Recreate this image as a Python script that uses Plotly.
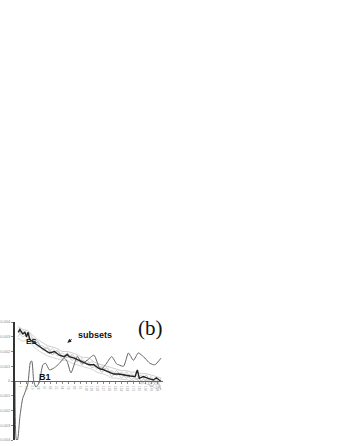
import plotly.graph_objects as go

# ---- data ----
es_x = [3.3, 5, 7.7, 10, 11.7, 13.3, 15, 20, 25, 30, 35, 40, 45, 50, 53, 55, 60, 65, 70, 75, 80,
        85, 90, 95, 100, 105, 110, 116.7, 121.7, 124, 126, 130, 135, 140, 143.3, 146.7, 148.3]
es_y = [0.0033, 0.0035, 0.0032, 0.0033, 0.003, 0.0033, 0.0028, 0.00255, 0.0023, 0.0021, 0.0019,
        0.002, 0.00175, 0.00165, 0.0018, 0.00165, 0.00155, 0.0014, 0.0013, 0.0011, 0.0011,
        0.00085, 0.00075, 0.00063, 0.00047, 0.00047, 0.0004, 0.00034, 0.0003, 0.00075, 0.00018,
        0.0003, 0.00018, 0.00007, 0.00022, 0.00007, -0.00005]

b1_x = [0, 1.5, 2.5, 5, 7.7, 10, 13, 15.7, 17, 19, 21, 24.3, 28.3, 31, 35, 40, 45, 50, 53, 56.7,
        63.3, 68, 73, 80, 86.7, 91.7, 98, 103, 105, 110, 115, 120, 125, 131.7, 136.7, 141.7, 148]
b1_y = [0.0, -0.004, -0.004, -0.0024, -0.0012, -0.0008, -0.0002, 0.0013, 0.00135, 0.0, -0.0004,
        -0.00015, 0.0011, 0.0012, 0.00075, 0.0009, 0.0012, 0.00155, 0.0013, 0.00055, 0.00165,
        0.0012, 0.0014, 0.00175, 0.00075, 0.0011, 0.00165, 0.00115, 0.0011, 0.001, 0.0019,
        0.0014, 0.0019, 0.00155, 0.0012, 0.0011, 0.00155]

sub_x = [3, 8, 13, 18, 23, 28, 33, 38, 43, 48, 53, 58, 63, 68, 73, 78, 83, 88, 93, 98, 103, 108,
         113, 118, 123, 128, 133, 138, 143, 148]
sub1 = [0.0037, 0.0035, 0.0034, 0.0031, 0.0028, 0.0026, 0.0024, 0.0023, 0.0022, 0.002, 0.002,
        0.0019, 0.0018, 0.0016, 0.0016, 0.0014, 0.0012, 0.0011, 0.001, 0.0009, 0.0008, 0.0007,
        0.0007, 0.0006, 0.0006, 0.0005, 0.0005, 0.0004, 0.0003, 0.0002]
sub2 = [0.0029, 0.0027, 0.0028, 0.0024, 0.0021, 0.0019, 0.0017, 0.0016, 0.0015, 0.0014, 0.0014,
        0.0012, 0.0011, 0.001, 0.0009, 0.0008, 0.0006, 0.0005, 0.0004, 0.0002, 0.0002, 0.0001,
        0.0001, 0.0, 0.0001, -0.0001, -0.0002, -0.0003, -0.0005, -0.0003]
sub3 = [0.0034, 0.0032, 0.0029, 0.0029, 0.0027, 0.0021, 0.0022, 0.0018, 0.0021, 0.0015, 0.0019,
        0.0014, 0.0017, 0.0011, 0.0014, 0.0009, 0.0011, 0.0006, 0.0009, 0.0003, 0.0007, 0.0002,
        0.0006, 0.0001, 0.0004, 0.0, 0.0004, -0.0002, 0.0001, -0.0006]
sub4 = [0.0035, 0.003, 0.0033, 0.0029, 0.0023, 0.0024, 0.0019, 0.0022, 0.0017, 0.0019, 0.0016,
        0.0018, 0.0014, 0.0015, 0.0011, 0.0013, 0.0008, 0.001, 0.0006, 0.0007, 0.0004, 0.0006,
        0.0003, 0.0005, 0.0001, 0.0004, 0.0, 0.0003, -0.0003, 0.0002]
sub5 = [0.003, 0.0034, 0.0031, 0.0026, 0.0026, 0.0022, 0.0023, 0.0018, 0.002, 0.0017, 0.0016,
        0.0017, 0.0013, 0.0014, 0.0012, 0.0011, 0.0009, 0.0009, 0.0007, 0.0006, 0.0004, 0.0005,
        0.0002, 0.0004, 0.0002, -0.0002, 0.0001, -0.0004, -0.0001, -0.0006]
subsets = [sub1, sub2, sub3, sub4, sub5]

y_ticks = [0.004, 0.003, 0.002, 0.001, 0, -0.001, -0.002, -0.003, -0.004]
y_tick_text = ["0.004", "0.003", "0.002", "0.001", "0", "-0.001", "-0.002", "-0.003", "-0.004"]
x_ticks = [6, 12, 18, 24, 30, 36, 42, 48, 54, 60, 66, 72, 78, 84, 90, 96, 102, 108, 114, 120,
           126, 132, 138, 144]
x_tick_text = ["1", "10", "19", "28", "37", "46", "55", "64", "73", "82", "91", "100", "109",
               "118", "127", "136", "145", "154", "163", "172", "181", "190", "199", "208"]

fig = go.Figure()
sub_colors = ["#c0c0c0", "#c8c8c8", "#b4b4b4", "#c4c4c4", "#bbbbbb"]
for s, c in zip(subsets, sub_colors):
    fig.add_trace(go.Scatter(x=sub_x, y=s, mode="lines", line=dict(color=c, width=0.8, shape="spline"),
                             hoverinfo="skip", showlegend=False))
fig.add_trace(go.Scatter(x=b1_x, y=b1_y, mode="lines", line=dict(color="#666666", width=1, shape="spline", smoothing=0.6),
                         showlegend=False))
fig.add_trace(go.Scatter(x=es_x, y=es_y, mode="lines", line=dict(color="#222222", width=1.4),
                         showlegend=False))

fig.update_layout(
    width=345, height=446,
    margin=dict(l=15, r=182, t=322, b=6),
    paper_bgcolor="white", plot_bgcolor="white",
    xaxis=dict(range=[0, 150], showgrid=False, zeroline=False, showline=True, automargin=False,
               linecolor="#666666", linewidth=1, anchor="free", position=0.5,
               tickvals=x_ticks, ticktext=x_tick_text, ticks="outside", ticklen=2,
               tickcolor="#888888", tickfont=dict(size=3, color="#999999", family="Liberation Sans")),
    yaxis=dict(range=[-0.004, 0.004], showgrid=False, zeroline=False, showline=True, automargin=False,
               linecolor="#333333", linewidth=2, tickvals=y_ticks, ticktext=y_tick_text,
               ticks="outside", ticklen=2, tickcolor="#888888",
               tickfont=dict(size=4, color="#888888", family="Liberation Sans")),
    annotations=[
        dict(x=0.914, y=0.945, xref="paper", yref="paper", xanchor="center", yanchor="middle",
             text="(b)", showarrow=False,
             font=dict(family="Liberation Serif", size=21, color="#111111")),
        dict(x=0.541, y=0.894, xref="paper", yref="paper", xanchor="center", yanchor="middle",
             text="<b>subsets</b>", showarrow=False,
             font=dict(family="Liberation Sans", size=9, color="#111111")),
        dict(x=53, y=0.0026, ax=59, ay=0.0029, xref="x", yref="y", axref="x", ayref="y",
             text="", showarrow=True, arrowhead=2, arrowsize=0.8, arrowwidth=1, arrowcolor="#222222"),
        dict(x=16.5, y=0.0027, xref="x", yref="y", text="<b>ES</b>", showarrow=False,
             font=dict(family="Liberation Sans", size=8, color="#111111")),
        dict(x=30, y=0.0003, xref="x", yref="y", text="<b>B1</b>", showarrow=False,
             font=dict(family="Liberation Sans", size=9, color="#111111")),
    ],
)

fig.write_html("out.html", config={"displayModeBar": False, "staticPlot": True},
               post_script="document.body.style.margin='0';document.body.style.overflow='hidden';")
